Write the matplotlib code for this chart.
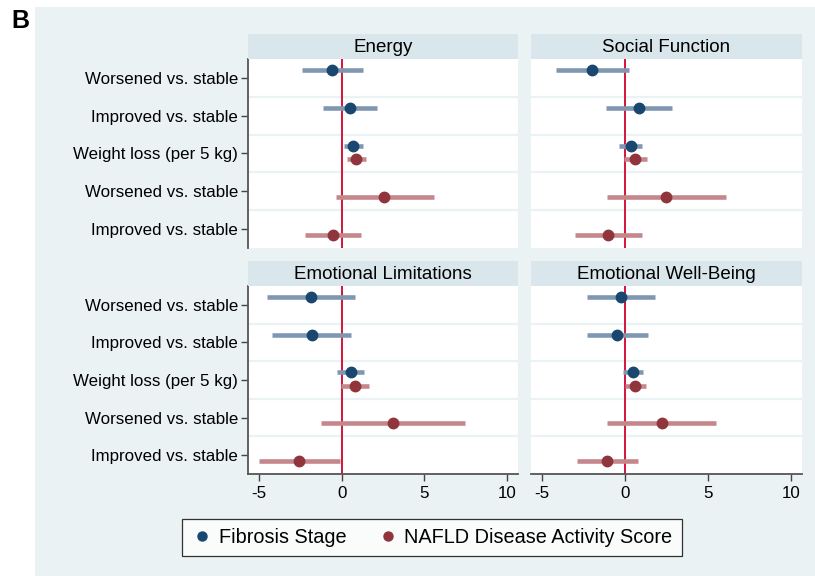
import matplotlib.pyplot as plt
from matplotlib.lines import Line2D
from matplotlib.patches import Rectangle

plt.rcParams['font.family'] = ['Liberation Sans', 'DejaVu Sans']

# row labels, top to bottom
rows = ['Worsened vs. stable', 'Improved vs. stable', 'Weight loss (per 5 kg)',
        'Worsened vs. stable', 'Improved vs. stable']
panels = ['Energy', 'Social Function', 'Emotional Limitations', 'Emotional Well-Being']

# Fibrosis Stage (rows 1-3): estimate, lower, upper
fib_est = {
    'Energy': [-0.57, 0.51, 0.69],
    'Social Function': [-1.97, 0.84, 0.34],
    'Emotional Limitations': [-1.88, -1.82, 0.55],
    'Emotional Well-Being': [-0.24, -0.46, 0.48],
}
fib_lo = {
    'Energy': [-2.4, -1.12, 0.14],
    'Social Function': [-4.18, -1.14, -0.34],
    'Emotional Limitations': [-4.53, -4.23, -0.28],
    'Emotional Well-Being': [-2.26, -2.26, -0.14],
}
fib_hi = {
    'Energy': [1.3, 2.14, 1.28],
    'Social Function': [0.24, 2.83, 1.02],
    'Emotional Limitations': [0.83, 0.59, 1.36],
    'Emotional Well-Being': [1.81, 1.37, 1.09],
}
# NAFLD Disease Activity Score (rows 3-5)
nas_est = {
    'Energy': [0.88, 2.59, -0.53],
    'Social Function': [0.6, 2.47, -1.0],
    'Emotional Limitations': [0.83, 3.12, -2.55],
    'Emotional Well-Being': [0.62, 2.22, -1.07],
}
nas_lo = {
    'Energy': [0.35, -0.37, -2.2],
    'Social Function': [-0.08, -1.1, -3.01],
    'Emotional Limitations': [-0.02, -1.23, -4.98],
    'Emotional Well-Being': [0.02, -1.07, -2.88],
}
nas_hi = {
    'Energy': [1.47, 5.6, 1.16],
    'Social Function': [1.31, 6.08, 1.0],
    'Emotional Limitations': [1.68, 7.47, -0.12],
    'Emotional Well-Being': [1.27, 5.48, 0.77],
}

xticks = [-5, 0, 5, 10]

blue, blue_ci = '#1a476f', '#7f97b0'
red, red_ci = '#90353b', '#c5878c'
bg = '#eaf2f3'
head = '#d9e6eb'

W, H = 815, 576
fig = plt.figure(figsize=(W / 100, H / 100), dpi=100)
fig.patches.append(Rectangle((35 / W, 0), 1, 1 - 7 / H, transform=fig.transFigure,
                             facecolor=bg, edgecolor='none', zorder=-10))
fig.text(11 / W, 1 - 21 / H, 'B', fontsize=18, fontweight='bold', va='center')

lefts = [248, 531, 248, 531]
widths = [270, 271, 270, 271]
tops = [59, 59, 286, 286]
heights = [189, 189, 188, 188]
ypos = [5, 4, 3, 2, 1]

for i, name in enumerate(panels):
    l, w, t, h = lefts[i], widths[i], tops[i], heights[i]
    ax = fig.add_axes([l / W, 1 - (t + h) / H, w / W, h / H])
    hax = fig.add_axes([l / W, 1 - t / H, w / W, 25 / H])
    hax.set_facecolor(head)
    hax.set_xticks([])
    hax.set_yticks([])
    for s in hax.spines.values():
        s.set_visible(False)
    hax.text(0.5, 0.45, name, ha='center', va='center', fontsize=13.5, transform=hax.transAxes)

    ax.set_facecolor('white')
    for yg in [1.5, 2.5, 3.5, 4.5]:
        ax.axhline(yg, color=bg, lw=1.6, zorder=1)
    ax.axvline(0, color='#d4143c', lw=1.4, zorder=2)

    fy = [p + 0.2 for p in ypos[:3]]
    ax.hlines(fy, fib_lo[name], fib_hi[name], color=blue_ci, lw=3.3, zorder=3)
    ax.plot(fib_est[name], fy, 'o', color=blue, ms=7.5, zorder=4)
    ny = [p - 0.15 for p in ypos[2:]]
    ax.hlines(ny, nas_lo[name], nas_hi[name], color=red_ci, lw=3.3, zorder=3)
    ax.plot(nas_est[name], ny, 'o', color=red, ms=7.5, zorder=4)

    ax.set_xlim(-5.66, 10.66)
    ax.set_ylim(0.5, 5.5)
    for s in ax.spines.values():
        s.set_visible(False)
    ax.tick_params(colors='#444444', labelcolor='black', labelsize=12.2, width=1, length=5)
    ax.tick_params(axis='y', pad=2)

    if i % 2 == 0:
        ax.spines['left'].set_visible(True)
        ax.spines['left'].set_color('#555555')
        ax.spines['left'].set_linewidth(1.3)
        ax.set_yticks(ypos)
        ax.set_yticklabels(rows)
    else:
        ax.set_yticks([])
    if i >= 2:
        ax.spines['bottom'].set_visible(True)
        ax.spines['bottom'].set_color('#555555')
        ax.spines['bottom'].set_linewidth(1.3)
        ax.set_xticks(xticks)
        ax.set_xticklabels([str(v) for v in xticks])
    else:
        ax.set_xticks([])

handles = [Line2D([], [], ls='none', marker='o', color=blue, ms=6.5),
           Line2D([], [], ls='none', marker='o', color=red, ms=6.5)]
leg = fig.legend(handles, ['Fibrosis Stage', 'NAFLD Disease Activity Score'],
                 loc='center', bbox_to_anchor=(432 / W, 1 - 537.5 / H), ncol=2,
                 fontsize=14.3, frameon=True, fancybox=False, edgecolor='black',
                 handletextpad=0.3, columnspacing=1.5, handlelength=1.1,
                 borderpad=0.45, borderaxespad=0)
leg.get_frame().set_linewidth(0.9)

fig.savefig('out.png', dpi=100)
